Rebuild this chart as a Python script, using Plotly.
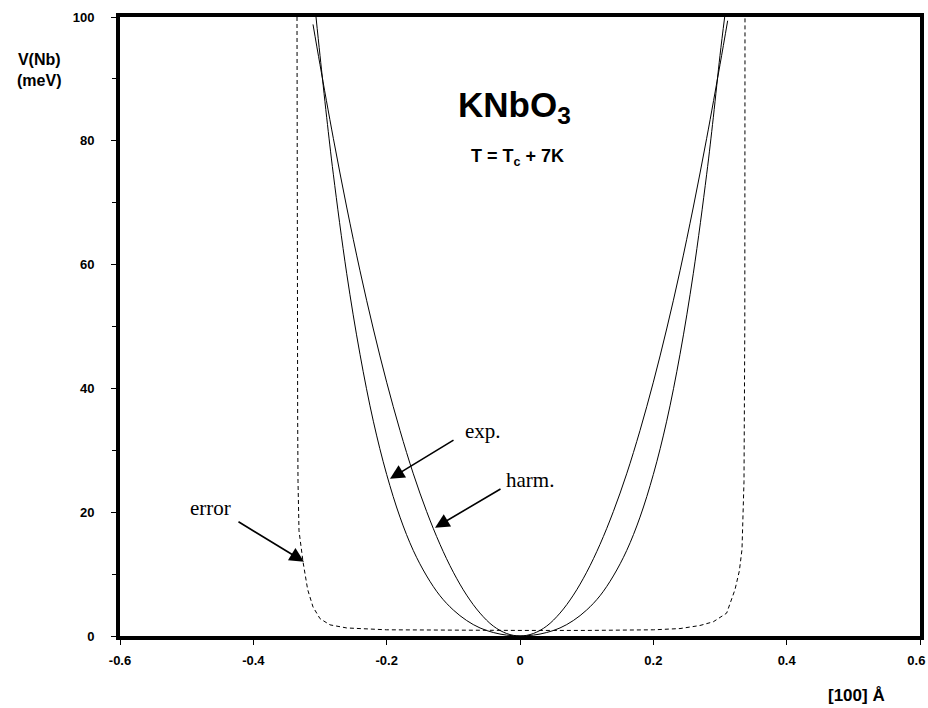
import plotly.graph_objects as go

# Harmonic potential
harm_x = [-0.3105, -0.30, -0.28, -0.26, -0.24, -0.22, -0.20, -0.18, -0.16, -0.14, -0.12, -0.10,
          -0.08, -0.06, -0.04, -0.02, 0.0, 0.02, 0.04, 0.06, 0.08, 0.10, 0.12, 0.14, 0.16, 0.18,
          0.20, 0.22, 0.24, 0.26, 0.28, 0.30, 0.3115]
harm_v = [98.8, 92.3, 80.4, 69.3, 59.0, 49.6, 41.0, 33.2, 26.2, 20.1, 14.8, 10.3,
          6.6, 3.7, 1.6, 0.4, 0.0, 0.4, 1.6, 3.7, 6.6, 10.3, 14.8, 20.1, 26.2, 33.2,
          41.0, 49.6, 59.0, 69.3, 80.4, 92.3, 99.4]

# Experimental (anharmonic) potential
exp_x = [-0.306, -0.30, -0.29, -0.28, -0.26, -0.24, -0.22, -0.20, -0.18, -0.16, -0.14, -0.12,
         -0.10, -0.08, -0.06, -0.04, -0.02, 0.0, 0.02, 0.04, 0.06, 0.08, 0.10, 0.12, 0.14,
         0.16, 0.18, 0.20, 0.22, 0.24, 0.26, 0.28, 0.29, 0.30, 0.307]
exp_v = [100.0, 93.8, 83.8, 74.6, 58.6, 45.5, 34.7, 26.1, 19.2, 13.8, 9.7, 6.5,
         4.2, 2.5, 1.3, 0.56, 0.14, 0.0, 0.14, 0.56, 1.3, 2.5, 4.2, 6.5, 9.7,
         13.8, 19.2, 26.1, 34.7, 45.5, 58.6, 74.6, 83.8, 93.8, 100.0]

# Error curve (dashed)
err_x = [-0.3345, -0.3343, -0.3335, -0.333, -0.3315, -0.3255, -0.3185, -0.3105, -0.30, -0.285,
         -0.26, -0.20, -0.10, 0.0, 0.10, 0.20, 0.24, 0.27, 0.29, 0.31, 0.3225, 0.329,
         0.333, 0.336, 0.3372, 0.3375]
err_v = [100.0, 60.0, 35.0, 25.0, 17.0, 12.0, 7.5, 4.7, 2.8, 1.8,
         1.3, 1.0, 0.9, 0.9, 0.9, 1.0, 1.2, 1.7, 2.3, 3.7, 7.5, 10.5,
         14.0, 25.0, 50.0, 100.0]

x_ticks = [-0.6, -0.4, -0.2, 0, 0.2, 0.4, 0.6]
x_tick_labels = ["-0.6", "-0.4", "-0.2", "0", "0.2", "0.4", "0.6\u00a0\u00a0"]
y_ticks = [0, 20, 40, 60, 80, 100]
y_tick_labels = ["0", "20", "40", "60", "80", "100"]

SANS = "Arial, Liberation Sans, Helvetica, sans-serif"
SERIF = "Times New Roman, Liberation Serif, serif"

fig = go.Figure()
fig.add_trace(go.Scatter(x=err_x, y=err_v, mode="lines",
                         line=dict(color="black", width=1, dash="4px,3px"), name="error"))
fig.add_trace(go.Scatter(x=harm_x, y=harm_v, mode="lines", line_shape="spline",
                         line=dict(color="black", width=1), name="harm."))
fig.add_trace(go.Scatter(x=exp_x, y=exp_v, mode="lines", line_shape="spline",
                         line=dict(color="black", width=1), name="exp."))

fig.update_layout(
    width=928, height=708,
    margin=dict(l=120, r=8, t=17, b=72),
    paper_bgcolor="white", plot_bgcolor="white",
    showlegend=False,
    font=dict(family=SANS, color="black"),
)
fig.update_xaxes(range=[-0.6, 0.6], tickvals=x_ticks, ticktext=x_tick_labels,
                 showgrid=False, zeroline=False, showline=True, linecolor="black",
                 linewidth=4, mirror=True, ticks="outside", ticklen=5, tickwidth=1,
                 tickcolor="black", automargin=False, ticklabeloverflow="allow",
                 tickfont=dict(family=SANS, size=13, color="black", weight="bold"),
                 ticklabelstandoff=4)
fig.update_yaxes(range=[0, 100], tickvals=y_ticks, ticktext=y_tick_labels,
                 showgrid=False, zeroline=False, showline=True, linecolor="black",
                 linewidth=4, mirror=True, ticks="outside", ticklen=5, tickwidth=1,
                 tickcolor="black", automargin=False, ticklabeloverflow="allow",
                 tickfont=dict(family=SANS, size=13, color="black", weight="bold"),
                 ticklabelstandoff=14,
                 minor=dict(dtick=10, ticks="outside", ticklen=4, tickwidth=1,
                            tickcolor="black"))

# axis titles
fig.add_annotation(x=-81 / 800, y=1 - (70 - 17) / 619, xref="paper", yref="paper",
                   text="<b>V(Nb)<br>(meV)</b>", showarrow=False, align="center",
                   font=dict(family=SANS, size=16, color="black"), xanchor="center",
                   yanchor="middle")
fig.add_annotation(x=(856 - 120) / 800, y=-(695 - 636) / 619, xref="paper", yref="paper",
                   text="<b>[100] Å</b>", showarrow=False,
                   font=dict(family=SANS, size=17, color="black"), xanchor="center",
                   yanchor="middle")
# labels in plot
fig.add_annotation(x=-0.008, y=85.5, xref="x", yref="y", text="<b>KNbO<sub>3</sub></b>",
                   showarrow=False, font=dict(family=SANS, size=35, color="black"),
                   xanchor="center", yanchor="middle")
fig.add_annotation(x=-0.004, y=77.3, xref="x", yref="y", text="<b>T = T<sub>c</sub> + 7K</b>",
                   showarrow=False, font=dict(family=SANS, size=18, color="black"),
                   xanchor="center", yanchor="middle")

for txt, tx, ty in [("exp.", -0.0555, 33.1), ("harm.", 0.015, 25.2), ("error", -0.465, 20.7)]:
    fig.add_annotation(x=tx, y=ty, xref="x", yref="y", text=txt, showarrow=False,
                       font=dict(family=SERIF, size=21, color="black"))

for (hx, hy, tx, ty) in [(-0.195, 25.4, -0.0975, 31.8), (-0.1275, 17.5, -0.027, 23.9),
                         (-0.324, 12.0, -0.4245, 18.6)]:
    fig.add_annotation(x=hx, y=hy, ax=tx, ay=ty, xref="x", yref="y", axref="x", ayref="y",
                       text="", showarrow=True, arrowhead=2, arrowsize=1.8, arrowwidth=1.6,
                       arrowcolor="black", standoff=0)

fig.write_html(
    "out.html",
    config={"displayModeBar": False},
    post_script="document.body.style.margin='0';"
                "document.documentElement.style.overflow='hidden';",
)
